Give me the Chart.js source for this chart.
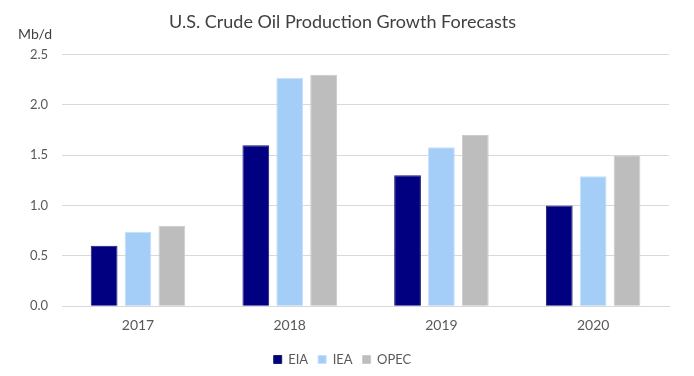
<!DOCTYPE html>
<html>
<head>
<meta charset="utf-8">
<script src="https://cdn.jsdelivr.net/npm/chart.js@4"></script>
<style>
  html, body { margin: 0; padding: 0; background: #fff; }
  #wrap { width: 694px; height: 376px; position: relative; }
</style>
</head>
<body>
<div id="wrap"><canvas id="oilChart"></canvas></div>
<script>
// Dati (Mb/d)
const years = ['2017', '2018', '2019', '2020'];
const eia = [0.6, 1.6, 1.3, 1.0];
const iea = [0.74, 2.27, 1.58, 1.29];
const opec = [0.8, 2.3, 1.7, 1.5];
const yTicks = [0.0, 0.5, 1.0, 1.5, 2.0, 2.5];

const fontFamily = 'Lato, "Open Sans", sans-serif';

// Etichetta unità in alto a sinistra
const unitLabel = {
    id: 'unitLabel',
    afterDraw(chart) {
        const ctx = chart.ctx;
        ctx.save();
        ctx.font = '14px ' + fontFamily;
        ctx.fillStyle = '#404040';
        ctx.textAlign = 'left';
        ctx.textBaseline = 'middle';
        ctx.fillText('Mb/d', 18, 34);
        ctx.restore();
    }
};

const ctx = document.getElementById('oilChart').getContext('2d');
new Chart(ctx, {
    type: 'bar',
    data: {
        labels: years,
        datasets: [
            {
                label: 'EIA',
                data: eia,
                backgroundColor: '#000080',
                borderColor: '#1a1a70',
                borderWidth: 1
            },
            {
                label: 'IEA',
                data: iea,
                backgroundColor: '#a4cdf8',
                borderColor: '#c4e0fc',
                borderWidth: 1
            },
            {
                label: 'OPEC',
                data: opec,
                backgroundColor: '#bdbdbd',
                borderColor: '#cccccc',
                borderWidth: 1
            }
        ]
    },
    options: {
        responsive: true,
        maintainAspectRatio: false,
        animation: false,
        datasets: {
            bar: { categoryPercentage: 0.67, barPercentage: 0.79 }
        },
        layout: { padding: { left: 16, right: 25, top: 0, bottom: 0 } },
        plugins: {
            title: {
                display: true,
                text: 'U.S. Crude Oil Production Growth Forecasts',
                color: '#404040',
                font: { family: fontFamily, size: 18, weight: 'normal' },
                padding: { top: 11, bottom: 22 }
            },
            legend: {
                position: 'bottom',
                labels: {
                    boxWidth: 8,
                    boxHeight: 8,
                    color: '#595959',
                    font: { family: fontFamily, size: 13 },
                    padding: 10
                }
            },
            tooltip: { enabled: false }
        },
        scales: {
            x: {
                grid: { display: false, drawTicks: false },
                border: { color: '#d9d9d9' },
                ticks: {
                    color: '#595959',
                    font: { family: fontFamily, size: 14 },
                    padding: 11
                },
                afterFit(scale) {
                    scale.height -= 2;
                }
            },
            y: {
                min: 0,
                max: 2.5,
                afterBuildTicks(scale) {
                    scale.ticks = yTicks.map(v => ({ value: v }));
                },
                grid: { color: '#d9d9d9', drawTicks: false },
                border: { display: false },
                ticks: {
                    color: '#595959',
                    font: { family: fontFamily, size: 13 },
                    padding: 14,
                    callback: v => Number(v).toFixed(1)
                }
            }
        }
    },
    plugins: [unitLabel]
});
</script>
</body>
</html>
